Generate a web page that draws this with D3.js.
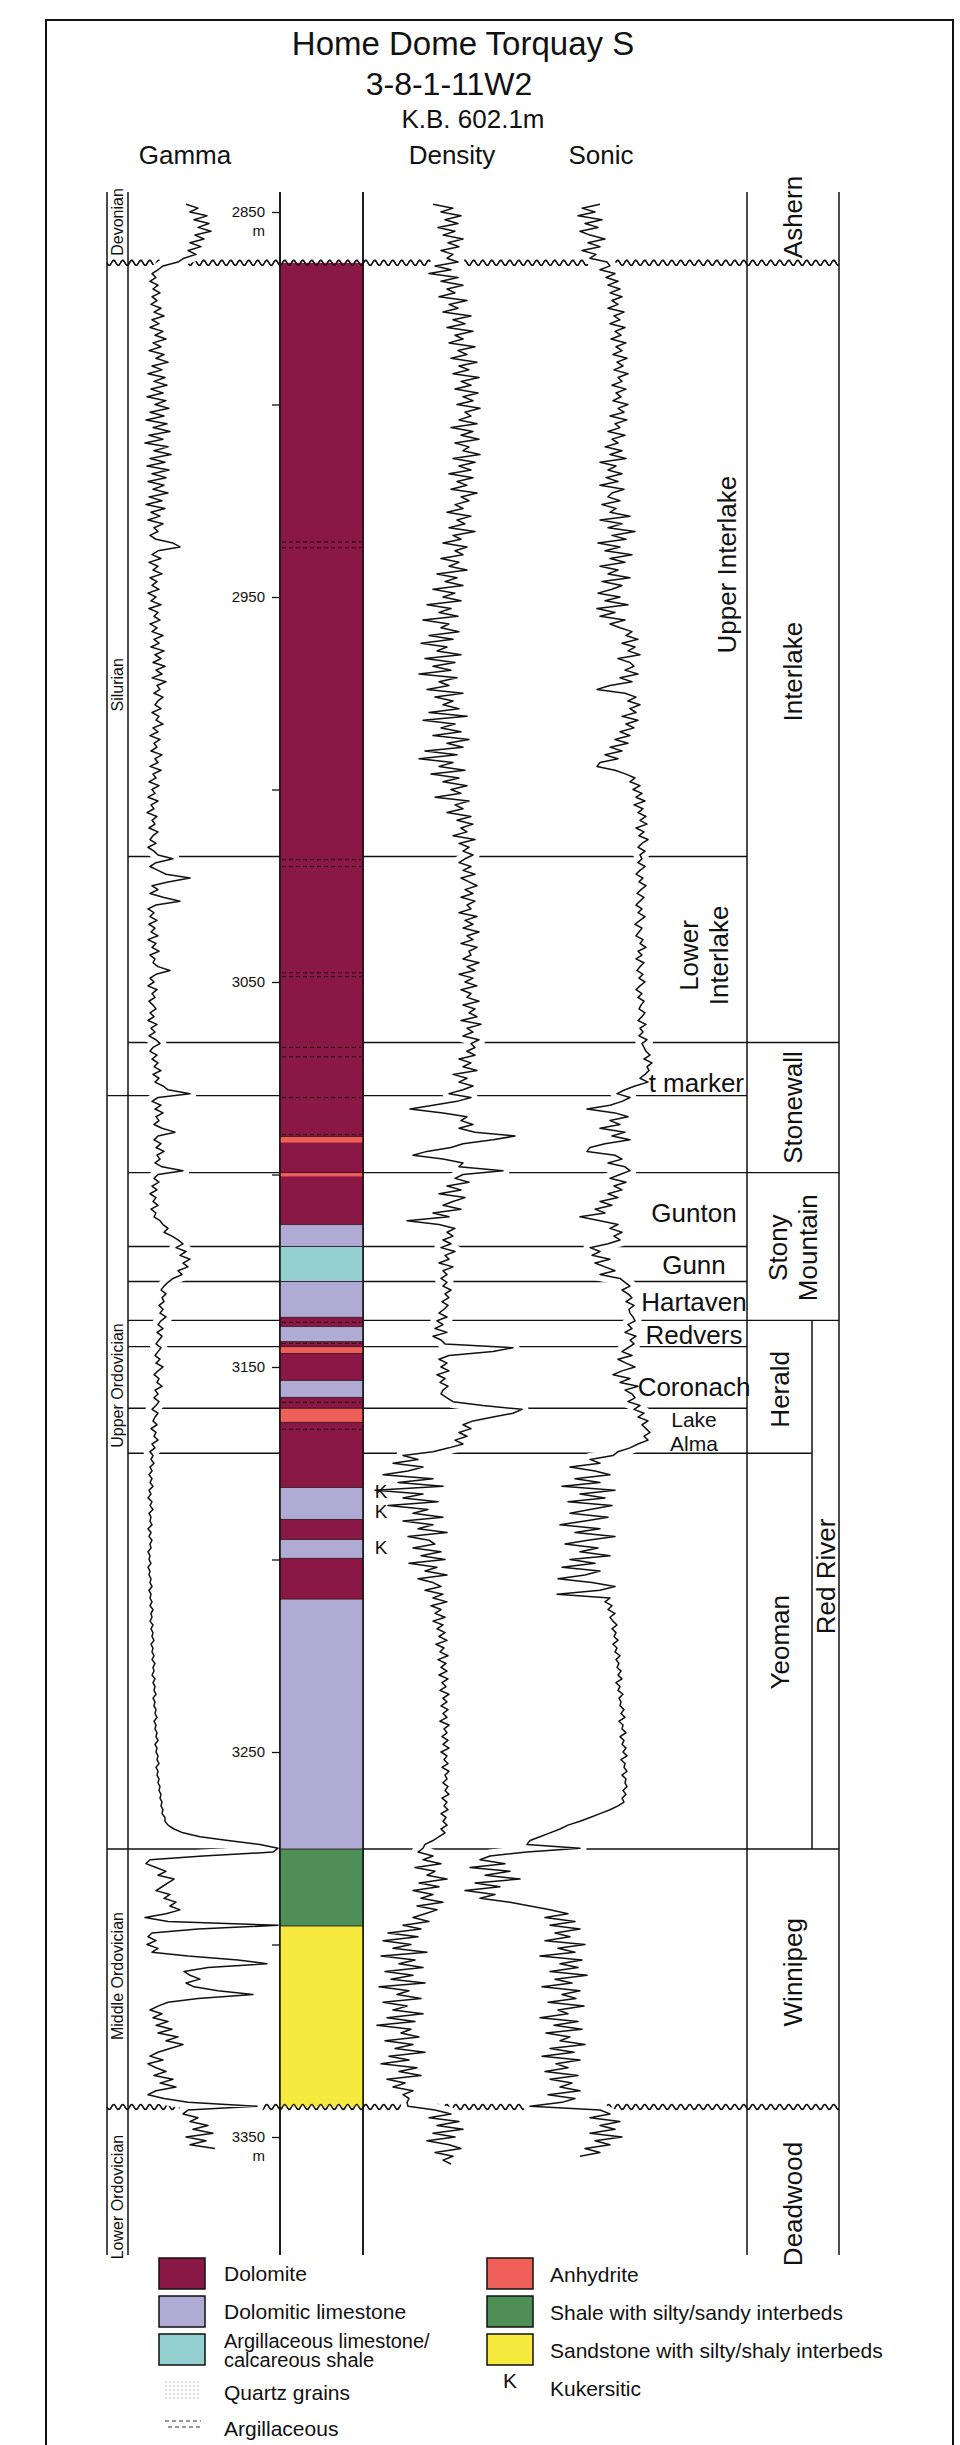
<!DOCTYPE html>
<html>
<head>
<meta charset="utf-8">
<script src="https://cdn.jsdelivr.net/npm/d3@7"></script>
<style>
  body { margin: 0; background: #fff; }
  svg text { font-family: "Liberation Sans", Arial, Helvetica, sans-serif; fill: #111; }
</style>
</head>
<body>
<svg id="chart" width="960" height="2445"></svg>
<script>
// ---------- data ----------
const titleLines = ["Home Dome Torquay S", "3-8-1-11W2", "K.B. 602.1m"];
const trackNames = ["Gamma", "Density", "Sonic"];
const depthTicks = [2850, 2900, 2950, 3000, 3050, 3100, 3150, 3200, 3250, 3300, 3350];
const depthLabels = [2850, 2950, 3050, 3150, 3250, 3350];

// log samples, one per metre starting at logStart
const logStart = 2848;
const gammaValues = [
  58,70,62,79,66,81,70,83,67,76,  62,73,60,68,56,50,35,30,24,28,
  22,30,25,32,24,29,23,33,26,36,  24,31,22,35,27,38,25,33,21,36,
  28,40,24,34,20,37,26,39,23,35,  19,38,27,41,22,36,18,39,25,42,
  21,35,17,40,26,43,22,37,19,41,  24,38,20,36,25,40,21,34,18,37,
  23,32,20,35,26,30,22,28,45,52,  30,24,33,21,30,25,34,22,29,24,
  31,20,28,23,33,21,30,26,32,22,  29,24,35,26,31,23,36,27,33,25,
  37,28,34,24,38,29,32,26,35,30,  27,33,24,31,28,35,25,30,22,32,
  26,29,23,34,27,30,22,33,25,28,  21,31,24,27,20,30,23,26,19,29,
  24,27,21,30,25,22,28,20,26,30,  45,28,22,30,38,62,40,24,30,22,
  35,52,28,20,26,22,29,21,27,23,  30,20,28,24,31,22,27,25,30,42,
  28,22,26,20,29,24,27,21,25,28,  22,26,20,29,23,27,21,28,32,25,
  22,29,24,30,26,33,25,31,27,35,  40,62,30,24,33,27,35,28,31,26,
  34,47,30,26,33,28,36,29,32,27,  34,55,30,26,31,24,29,22,28,25,
  30,23,28,26,32,35,40,36,44,50,  55,48,58,52,62,55,60,50,54,45,
  40,36,33,38,34,36,31,35,32,38,  33,30,35,29,34,31,28,33,30,27,
  32,28,35,30,26,31,29,34,27,30,  26,31,28,24,30,27,25,29,23,28,
  26,30,24,27,22,25,23,26,22,24,  21,24,22,25,21,23,20,24,22,25,
  21,23,22,24,20,23,21,24,22,23,  20,22,21,23,20,22,21,23,22,24,
  21,23,22,24,22,25,23,24,22,25,  23,25,24,26,23,25,24,26,24,27,
  25,26,24,27,25,27,26,28,25,27,  26,28,27,29,26,28,27,29,28,30,
  27,29,28,30,29,31,28,30,29,31,  30,32,31,33,32,34,33,35,34,37,
  37,40,46,55,72,100,132,150,145,75,  22,18,28,38,30,46,40,34,28,42,
  36,48,42,52,38,17,40,150,70,24,  20,28,19,30,24,60,110,139,80,56,
  62,72,58,66,90,125,70,40,30,22,  34,25,40,28,44,30,50,38,55,42,
  30,22,35,20,28,38,26,45,32,48,  28,20,36,60,129,60,55,70,62,80,
  65,85,58,78,62,87
];
const densityValues = [
  70,90,78,98,82,95,75,92,80,100,  85,96,78,90,84,95,72,88,66,95,
  78,100,84,92,76,104,86,95,80,108,  90,102,84,110,92,100,86,112,95,104,
  88,114,96,106,90,116,98,108,92,115,  100,110,94,117,102,108,96,114,88,110,
  98,116,92,106,100,117,90,112,96,108,  86,110,94,104,88,114,98,106,92,100,
  84,108,94,102,86,112,90,98,80,104,  92,100,78,96,86,104,74,94,82,100,
  70,92,80,98,64,88,76,95,60,86,  78,96,66,90,58,84,74,98,62,92,
  70,88,56,94,76,86,64,100,72,90,  80,96,66,104,60,92,78,98,70,106,
  84,100,62,94,56,90,76,102,68,96,  80,104,88,98,72,106,92,100,84,108,
  94,110,98,104,90,112,96,106,100,110,  102,96,108,100,112,98,106,114,102,110,
  98,112,104,108,96,114,102,110,100,116,  104,110,98,114,106,108,100,116,104,112,
  96,110,102,114,98,108,104,116,100,112,  106,114,98,118,104,110,100,116,108,112,
  104,112,96,108,100,114,90,104,96,110,  100,86,108,94,70,47,80,104,98,110,
  96,112,152,130,100,88,64,50,80,100,  96,140,100,92,106,84,98,76,102,90,
  80,98,70,86,44,76,92,84,90,80,  88,78,92,82,86,76,90,80,84,78,
  84,80,88,82,86,79,85,81,76,84,  74,80,72,84,70,78,82,150,130,86,
  76,84,78,86,74,82,77,85,80,78,  84,90,120,159,150,130,110,100,108,96,
  104,92,100,86,70,40,55,30,60,45,  20,70,35,80,12,60,40,75,25,65,
  50,80,40,70,55,84,45,66,72,50,  78,58,82,46,74,62,84,55,70,78,
  62,80,70,84,68,78,72,82,70,80,  74,82,76,84,73,81,77,85,75,83,
  78,84,76,85,79,83,77,86,80,84,  78,85,80,84,77,86,81,84,79,85,
  80,86,78,84,81,85,79,86,82,84,  80,85,82,86,79,84,81,85,78,83,
  80,84,78,82,76,70,62,60,55,70,  60,78,52,72,64,84,56,76,50,70,
  58,80,54,74,62,50,66,40,58,25,  55,20,48,30,64,18,52,36,60,22,
  50,28,62,16,46,34,58,20,44,30,  60,24,52,14,48,38,56,22,50,32,
  62,26,46,18,54,36,58,24,42,30,  50,40,46,44,45,72,88,66,96,74,
  100,70,92,64,86,98,72,90,80,88
];
const sonicValues = [
  150,132,145,128,152,135,148,130,140,155,  138,150,132,146,140,157,160,150,165,156,
  168,158,170,160,172,162,168,158,174,164,  170,160,175,165,171,161,176,166,172,163,
  177,167,173,164,178,168,172,162,176,166,  171,163,178,168,174,160,177,165,170,158,
  175,162,168,155,172,160,176,150,166,158,  172,156,168,150,174,162,158,170,152,166,
  160,180,150,172,158,185,162,176,148,170,  155,182,160,175,150,168,158,180,152,172,
  162,148,170,155,178,147,165,150,175,160,  170,182,176,188,172,185,178,190,168,180,
  184,175,188,170,182,160,147,175,186,178,  190,180,186,172,188,176,184,170,180,165,
  178,160,172,155,168,150,147,165,176,185,  180,190,183,192,186,195,184,193,188,196,
  190,197,186,194,189,198,192,188,195,190,  192,188,195,190,186,193,189,196,191,187,
  194,190,186,192,188,195,190,185,192,189,  186,193,190,196,188,192,186,194,190,187,
  193,189,195,190,186,192,188,194,191,189,  195,192,188,196,190,193,189,197,192,194,
  196,200,194,202,197,199,195,190,198,185,  175,167,180,172,160,137,165,178,160,170,
  150,175,162,180,155,140,137,165,172,158,  175,180,170,160,176,164,172,158,168,150,
  162,145,155,130,150,168,160,172,164,170,  158,140,150,142,160,145,155,165,150,170,
  175,180,172,178,182,176,184,179,180,183,  185,178,182,175,186,180,184,178,172,182,
  168,176,185,172,163,180,170,188,175,182,  185,178,190,184,194,188,198,192,196,200,
  194,198,188,180,168,163,140,150,120,145,  160,125,150,112,165,130,155,118,162,140,
  120,158,135,110,150,125,165,138,115,148,  130,160,120,145,112,150,135,108,142,165,
  150,107,160,155,162,158,165,160,163,167,  162,166,164,168,163,167,165,170,166,169,
  167,171,168,172,166,170,168,173,169,171,  170,174,171,175,169,173,172,176,170,174,
  172,176,173,177,171,175,174,177,172,176,  175,177,173,176,172,174,168,160,150,140,
  130,118,110,100,90,80,77,130,77,40,  30,55,20,60,35,70,25,50,15,45,
  30,60,80,100,118,95,125,100,130,105,  120,95,135,108,125,90,132,110,128,100,
  137,105,122,92,130,112,126,98,134,108,  118,90,128,104,132,96,120,110,135,100,
  124,92,130,106,118,95,128,100,122,110,  130,98,125,112,80,150,160,140,170,150,
  165,140,172,145,160,135,150,130
];

// lithology beds: top, base (m), rock type
const lithBeds = [
  [2863.2, 3113.0, "dol"], [3090.1, 3091.7, "anh"], [3099.5, 3100.5, "anh"],
  [3113.0, 3118.7, "dlime"], [3118.7, 3127.8, "arg"], [3127.8, 3137.1, "dlime"],
  [3137.1, 3139.5, "dol"], [3139.5, 3143.4, "dlime"], [3143.4, 3144.7, "dol"],
  [3144.7, 3146.5, "anh"], [3146.5, 3153.5, "dol"], [3153.5, 3157.9, "dlime"],
  [3157.9, 3160.7, "dol"], [3160.7, 3164.4, "anh"], [3164.4, 3181.3, "dol"],
  [3181.3, 3189.6, "dlime"], [3189.6, 3194.8, "dol"], [3194.8, 3199.7, "dlime"],
  [3199.7, 3210.3, "dol"], [3210.3, 3275.2, "dlime"], [3275.2, 3295.2, "shale"],
  [3295.2, 3342.2, "sand"]
];
const argillaceousDepths = [2935.7, 2937.2, 3018.2, 3020.0, 3047.6, 3048.6, 3067.0, 3069.4,
  3080.0, 3089.6, 3138.4, 3143.9, 3159.2, 3166.2];
const kukersiticDepths = [3182.3, 3187.5, 3196.8];

// contacts: depth, left end, right end, unconformity?
const contacts = [
  [2863.2, "era", "group", true], [3017.4, "track", "member", false],
  [3065.7, "track", "group", false], [3079.5, "era", "member", false],
  [3099.5, "track", "group", false], [3118.7, "track", "member", false],
  [3127.8, "track", "member", false], [3137.9, "track", "group", false],
  [3144.7, "track", "member", false], [3160.7, "track", "member", false],
  [3172.4, "track", "sub", false], [3275.2, "era", "group", false],
  [3342.2, "era", "group", true]
];
// labels: name, depth of label centre
const eras = [["Devonian", 2852.6], ["Silurian", 2972.8], ["Upper Ordovician", 3154.8],
  ["Middle Ordovician", 3308.2], ["Lower Ordovician", 3365.6]];
const groups = [["Ashern", 2851.3, "full"], ["Interlake", 2969.4, "full"], ["Stonewall", 3082.6, "full"],
  ["Stony|Mountain", 3119.0, "full"], ["Herald", 3155.8, "sub"], ["Red River", 3204.4, "rr"],
  ["Yeoman", 3221.5, "sub"], ["Winnipeg", 3307.2, "full"], ["Deadwood", 3367.4, "full"]];
const members = [["Upper Interlake", 2941.6, "v"], ["Lower|Interlake", 3043.1, "v"],
  ["Gunton", 3109.9, "h"], ["Gunn", 3123.4, "h"], ["Hartaven", 3133.0, "h"],
  ["Redvers", 3141.6, "h"], ["Coronach", 3155.1, "h"], ["Lake|Alma", 3166.8, "h"]];
const tMarker = ["t marker", 3079.5];
const redRiverSpan = [3137.9, 3275.2];

const legendLeft = [["Dolomite", "dol"], ["Dolomitic limestone", "dlime"],
  ["Argillaceous limestone/|calcareous shale", "arg"], ["Quartz grains", "quartz"], ["Argillaceous", "argdash"]];
const legendRight = [["Anhydrite", "anh"], ["Shale with silty/sandy interbeds", "shale"],
  ["Sandstone with silty/shaly interbeds", "sand"], ["Kukersitic", "K"]];

const lithColor = { dol: "#8a1844", dlime: "#b0abd4", arg: "#94cfcf", anh: "#ef5f5a",
  shale: "#4e8f57", sand: "#f6ea3f" };

// ---------- layout ----------
const X = { eraL: 107, eraR: 128, lithL: 280, lithR: 363, member: 747, sub: 812, group: 839 };
const colTop = 192, colBot = 2255;
const svg = d3.select('#chart');
const y = d3.scaleLinear().domain([2850, 3350]).range([212, 2137]);
const gx = d3.scaleLinear().domain([0, 150]).range([128, 278]);
const dx = d3.scaleLinear().domain([0, 200]).range([363, 563]);
const sx = d3.scaleLinear().domain([0, 250]).range([450, 700]);

const defs = svg.append('defs');
defs.append('clipPath').attr('id', 'gclip').append('rect').attr('x', 129).attr('y', 0).attr('width', 150).attr('height', 2445);
defs.append('clipPath').attr('id', 'tclip').append('rect').attr('x', 364).attr('y', 0).attr('width', 382).attr('height', 2445);
const qp = defs.append('pattern').attr('id', 'quartz').attr('patternUnits', 'userSpaceOnUse').attr('width', 4).attr('height', 4);
qp.append('circle').attr('cx', 2).attr('cy', 2).attr('r', 0.8).attr('fill', '#c4b2b6');

// frame
svg.append('rect').attr('x', 46).attr('y', 20).attr('width', 907).attr('height', 2440)
  .attr('fill', 'none').attr('stroke', '#111').attr('stroke-width', 2);

// titles
const titleSpec = [[463, 55, 33], [449, 95, 32], [473, 128, 26]];
titleLines.forEach((t, i) => {
  svg.append('text').attr('x', titleSpec[i][0]).attr('y', titleSpec[i][1])
    .attr('text-anchor', 'middle').attr('font-size', titleSpec[i][2]).text(t);
});
const trackX = [185, 452, 601];
trackNames.forEach((t, i) => {
  svg.append('text').attr('x', trackX[i]).attr('y', 164).attr('text-anchor', 'middle')
    .attr('font-size', 26).text(t);
});

const lines = svg.append('g').attr('stroke', '#111').attr('fill', 'none');
// vertical column lines
[X.eraL, X.eraR, X.lithL, X.lithR, X.member, X.group].forEach(x => {
  lines.append('line').attr('x1', x).attr('x2', x).attr('y1', colTop).attr('y2', colBot).attr('stroke-width', 1.5);
});
lines.append('line').attr('x1', X.sub).attr('x2', X.sub)
  .attr('y1', y(redRiverSpan[0])).attr('y2', y(redRiverSpan[1])).attr('stroke-width', 1.5);

// contacts
const wave = (x0, x1, yy) => d3.range(x0, x1 + 0.5, 1).map(x => [x, yy + 2.6 * Math.sin((x - x0) / 9 * 2 * Math.PI)]);
const ends = { era: X.eraL, track: X.eraR, member: X.member, sub: X.sub, group: X.group };
contacts.forEach(([d, a, b, unc]) => {
  if (unc) {
    lines.append('path').attr('d', d3.line()(wave(ends[a], ends[b], y(d)))).attr('stroke-width', 1.3);
  } else {
    lines.append('line').attr('x1', ends[a]).attr('x2', ends[b]).attr('y1', y(d)).attr('y2', y(d)).attr('stroke-width', 1.4);
  }
});

// lithology column
const lith = svg.append('g');
lith.selectAll('rect').data(lithBeds).join('rect')
  .attr('x', X.lithL).attr('width', X.lithR - X.lithL)
  .attr('y', d => y(d[0])).attr('height', d => y(d[1]) - y(d[0]))
  .attr('fill', d => lithColor[d[2]]);
lith.selectAll('line.bed').data(lithBeds.slice(1)).join('line').attr('class', 'bed')
  .attr('x1', X.lithL).attr('x2', X.lithR).attr('y1', d => y(d[0])).attr('y2', d => y(d[0]))
  .attr('stroke', '#2a0a14').attr('stroke-width', 0.8);
lith.selectAll('line.arg').data(argillaceousDepths).join('line').attr('class', 'arg')
  .attr('x1', X.lithL + 2).attr('x2', X.lithR - 2).attr('y1', d => y(d)).attr('y2', d => y(d))
  .attr('stroke', '#1a0508').attr('stroke-width', 1).attr('stroke-dasharray', '4,3');
// redraw unconformities over the column
contacts.filter(c => c[3]).forEach(([d]) => {
  lith.append('path').attr('d', d3.line()(wave(X.eraL, X.group, y(d)))).attr('fill', 'none')
    .attr('stroke', '#111').attr('stroke-width', 1.3);
});
[X.lithL, X.lithR].forEach(x => lith.append('line').attr('x1', x).attr('x2', x)
  .attr('y1', colTop).attr('y2', colBot).attr('stroke', '#111').attr('stroke-width', 1.5));

// depth axis
const axis = d3.axisLeft(y).tickValues(depthTicks).tickSize(8).tickPadding(7)
  .tickFormat(d => depthLabels.includes(d) ? d : '');
const ag = svg.append('g').attr('transform', `translate(${X.lithL},0)`).call(axis);
ag.select('.domain').remove();
ag.selectAll('line').attr('stroke', '#111').attr('stroke-width', 1.3);
ag.selectAll('text').attr('font-size', 15).attr('fill', '#111')
  .attr('font-family', '"Liberation Sans", Arial, sans-serif');
[depthLabels[0], depthLabels[depthLabels.length - 1]].forEach(d => {
  svg.append('text').attr('x', 265).attr('y', y(d) + 24).attr('text-anchor', 'end').attr('font-size', 15).text('m');
});

// log curves
const curves = [[gammaValues, gx, 'gclip'], [densityValues, dx, 'tclip'], [sonicValues, sx, 'tclip']];
curves.forEach(([vals, sc, clip]) => {
  const line = d3.line().x(v => sc(v)).y((v, i) => y(logStart + i));
  svg.append('path').attr('d', line(vals)).attr('fill', 'none').attr('stroke', '#fff')
    .attr('stroke-width', 13).attr('stroke-linejoin', 'round').attr('clip-path', `url(#${clip})`);
});
curves.forEach(([vals, sc]) => {
  const line = d3.line().x(v => sc(v)).y((v, i) => y(logStart + i));
  svg.append('path').attr('d', line(vals)).attr('fill', 'none').attr('stroke', '#111')
    .attr('stroke-width', 1.5).attr('stroke-linejoin', 'round');
});

// K markers (on top of the curves)
svg.selectAll('text.k').data(kukersiticDepths).join('text').attr('class', 'k')
  .attr('x', 381).attr('y', d => y(d) + 7).attr('text-anchor', 'middle').attr('font-size', 19).text('K');

// rotated labels
function vText(x, yy, str, size) {
  const parts = str.split('|');
  parts.forEach((p, i) => {
    svg.append('text').attr('transform', `translate(${x + (i - (parts.length - 1) / 2) * size * 1.12},${yy}) rotate(-90)`)
      .attr('text-anchor', 'middle').attr('dominant-baseline', 'central').attr('font-size', size).text(p);
  });
}
eras.forEach(([n, d]) => vText((X.eraL + X.eraR) / 2, y(d), n, 16));
const grpX = { full: (X.member + X.group) / 2, sub: (X.member + X.sub) / 2, rr: (X.sub + X.group) / 2 };
groups.forEach(([n, d, c]) => vText(grpX[c], y(d), n, 26));
members.forEach(([n, d, o]) => {
  if (o === 'v') {
    vText(n.includes('|') ? 704 : 727, y(d), n, 26);
  } else {
    const parts = n.split('|');
    const fs = parts.length > 1 ? 21 : 26;
    parts.forEach((p, i) => {
      svg.append('text').attr('x', 694).attr('y', y(d) + (parts.length > 1 ? 7 : 9) + (i - (parts.length - 1) / 2) * 24)
        .attr('text-anchor', 'middle').attr('font-size', fs).text(p);
    });
  }
});
svg.append('text').attr('x', 744).attr('y', y(tMarker[1]) - 4).attr('text-anchor', 'end')
  .attr('font-size', 26).text(tMarker[0]);

// legend
function swatch(g, key, x, yy) {
  if (lithColor[key]) {
    g.append('rect').attr('x', x).attr('y', yy).attr('width', 46).attr('height', 31)
      .attr('fill', lithColor[key]).attr('stroke', '#111').attr('stroke-width', 1.5);
  } else if (key === 'quartz') {
    g.append('rect').attr('x', x + 4).attr('y', yy + 2).attr('width', 38).attr('height', 22).attr('fill', 'url(#quartz)');
  } else if (key === 'argdash') {
    [0, 6].forEach((o, i) => g.append('line').attr('x1', x + 6 + i * 3).attr('x2', x + 42)
      .attr('y1', yy + 8 + o).attr('y2', yy + 8 + o).attr('stroke', '#333').attr('stroke-dasharray', '4,3'));
  } else if (key === 'K') {
    g.append('text').attr('x', x + 23).attr('y', yy + 16).attr('text-anchor', 'middle').attr('font-size', 21).text('K');
  }
}
const lg = svg.append('g');
const leftRows = [2258, 2296, 2334, 2377, 2413];
legendLeft.forEach(([t, k], i) => {
  swatch(lg, k, 159, leftRows[i]);
  const parts = t.split('|');
  parts.forEach((p, j) => lg.append('text').attr('x', 224)
    .attr('y', leftRows[i] + 23 + (j - (parts.length - 1) / 2) * 19).attr('font-size', parts.length > 1 ? 20 : 21).text(p));
});
const rightRows = [2258, 2296, 2334, 2372];
legendRight.forEach(([t, k], i) => {
  swatch(lg, k, 487, rightRows[i]);
  lg.append('text').attr('x', 550).attr('y', rightRows[i] + 24).attr('font-size', 21).text(t);
});
</script>
</body>
</html>
